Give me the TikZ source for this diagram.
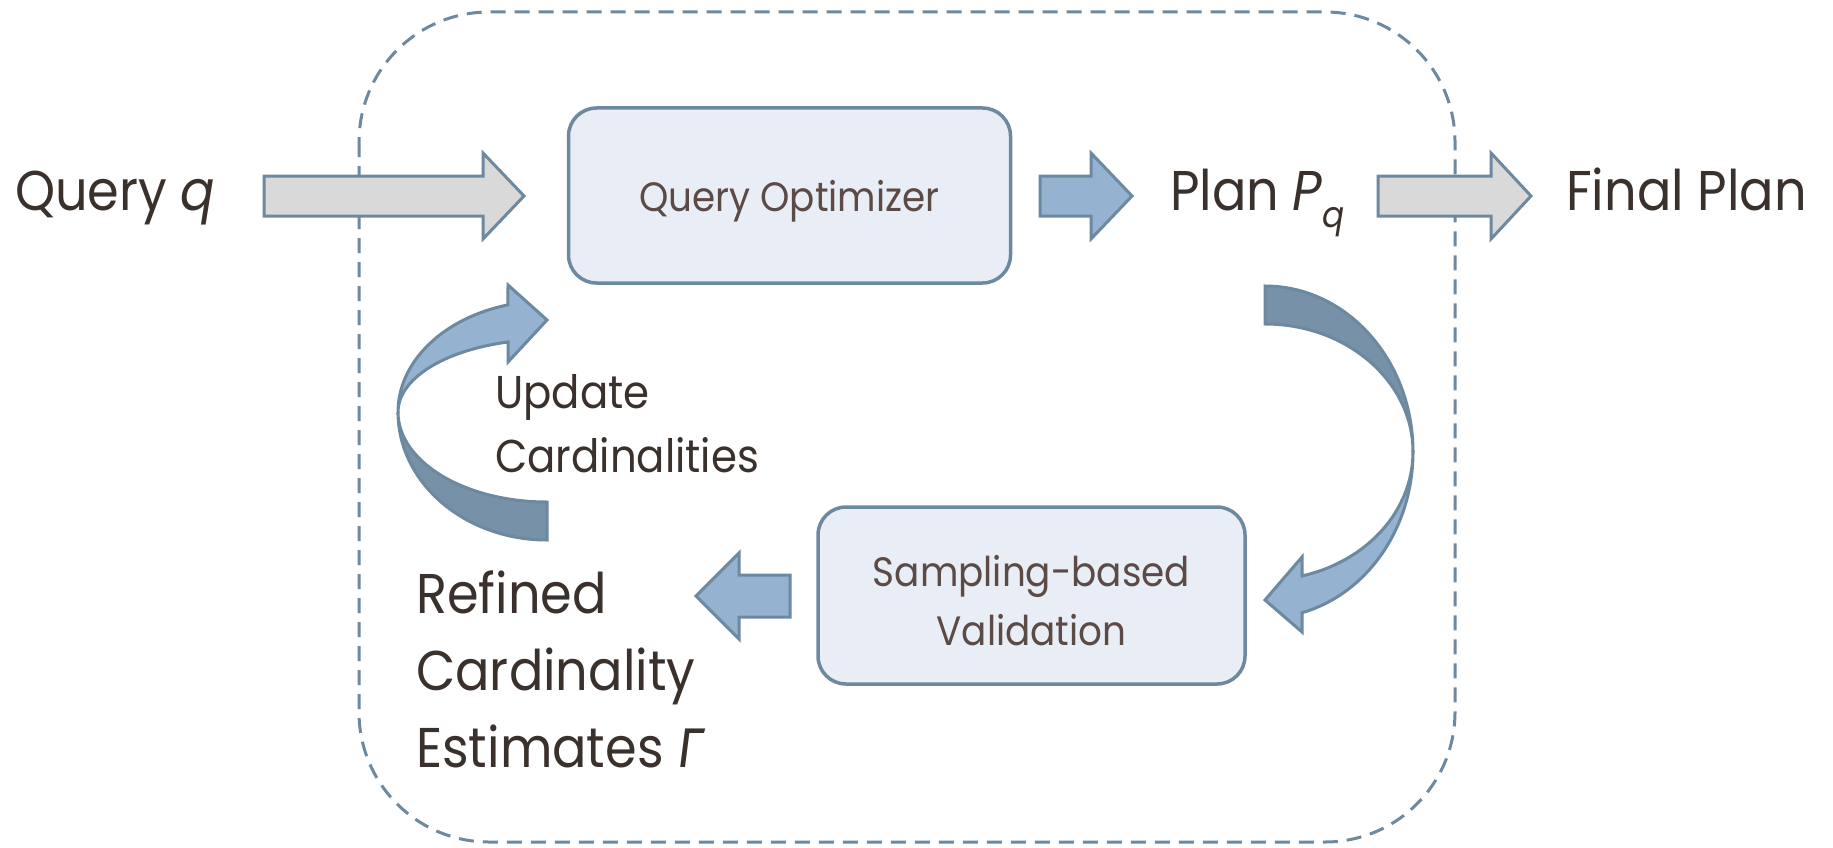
\documentclass[tikz,border=0pt]{standalone}
\usepackage{fontspec}
\setmainfont{Poppins}[FakeStretch=0.91]
\newfontfamily\greekfont{Fira Sans}[FakeStretch=0.91]

\definecolor{edgeblue}{HTML}{6D89A0}
\definecolor{lightblue}{HTML}{95B3D1}
\definecolor{darkblue}{HTML}{7691A8}
\definecolor{arrowgray}{HTML}{D9D9D9}
\definecolor{boxfill}{HTML}{E9EEF6}
\definecolor{ink}{HTML}{3B312C}
\definecolor{boxink}{HTML}{5B4A45}

% block arrow: style, tail x, head-base x, tip x, mid y, half shaft, half head
\newcommand\blockarrow[7]{%
  \draw[#1] (#2,{#5-#6}) -- (#3,{#5-#6}) -- (#3,{#5-#7}) -- (#4,#5)
    -- (#3,{#5+#7}) -- (#3,{#5+#6}) -- (#2,{#5+#6}) -- cycle;}

\tikzset{
  outline/.style={draw=edgeblue, line width=3pt, line join=miter},
  grayarrow/.style={outline, fill=arrowgray},
  bluearrow/.style={outline, fill=lightblue},
  backface/.style={outline, fill=darkblue},
  frontface/.style={outline, fill=lightblue},
  stagebox/.style={draw=edgeblue, line width=3.5pt, fill=boxfill,
    rounded corners=28pt},
  stagetext/.style={text=boxink, align=center, inner sep=0pt,
    font=\fontsize{41}{59}\selectfont},
  biglabel/.style={text=ink, inner sep=0pt, anchor=base west,
    font=\fontsize{56}{66}\selectfont},
  smalllabel/.style={text=ink, inner sep=0pt, anchor=base west,
    font=\fontsize{46}{56}\selectfont},
  frame/.style={draw=edgeblue, line width=3pt, dash pattern=on 15pt off 9pt,
    rounded corners=130pt},
}

\begin{document}
\begin{tikzpicture}[x=1pt, y=-1pt]
\useasboundingbox (0,0) rectangle (1833,848);

% system boundary
\draw[frame] (359,12) rectangle (1455,842);

% stages
\node[stagebox, minimum width=442pt, minimum height=175pt] (qo) at (789.5,195.5) {};
\node[stagetext] (qotext) at (789.5,201) {Query Optimizer};
\node[stagebox, minimum width=427pt, minimum height=177pt] (sv) at (1031.5,595.5) {};
\node[stagetext] (svtext) at (1031.5,601) {Sampling-based\\Validation};

% labels
\node[biglabel] (query) at (15,210) {Query \textit{q}};
\node[biglabel] (plan) at (1170,210) {Plan \textit{P}\raisebox{-0.32em}{\fontsize{36}{40}\selectfont\itshape q}};
\node[biglabel] (final) at (1566,210) {Final Plan};
\node[biglabel] (ref1) at (416,613) {Refined};
\node[biglabel] (ref2) at (416,690) {Cardinality};
\node[biglabel] (ref3) at (416,767) {Estimates {\greekfont\itshape Γ}};
\node[smalllabel] (upd1) at (495,408) {Update};
\node[smalllabel] (upd2) at (495,472) {Cardinalities};

% straight block arrows
\blockarrow{grayarrow}{264}{483}{524}{196}{20}{43}
\blockarrow{bluearrow}{1040}{1091}{1132}{196}{20}{43}
\blockarrow{grayarrow}{1378}{1491}{1531}{196}{20}{43}
\blockarrow{bluearrow}{790}{739}{696}{596}{21}{43}

% curved arrow from the plan down to validation
\draw[backface] (1265,286)
  arc[start angle=-90, end angle=0, x radius=148, y radius=166]
  arc[start angle=0, end angle=-90, x radius=148, y radius=128] -- cycle;
\draw[frontface] (1413,452)
  arc[start angle=0, end angle=75.5, x radius=148, y radius=166]
  -- (1302,632) -- (1265,600) -- (1302,557) -- (1302,575.9)
  arc[start angle=75.5, end angle=0, x radius=148, y radius=128] -- cycle;

% curved arrow feeding refined estimates back to the optimizer
\draw[backface] (547,540)
  arc[start angle=90, end angle=180, x radius=149, y radius=128]
  arc[start angle=180, end angle=90, x radius=149, y radius=90] -- cycle;
\draw[frontface] (398,412)
  arc[start angle=180, end angle=254.8, x radius=149, y radius=111]
  -- (508,285) -- (547,320) -- (508,362) -- (508,342)
  arc[start angle=254.8, end angle=180, x radius=149, y radius=72.5] -- cycle;
\end{tikzpicture}
\end{document}
